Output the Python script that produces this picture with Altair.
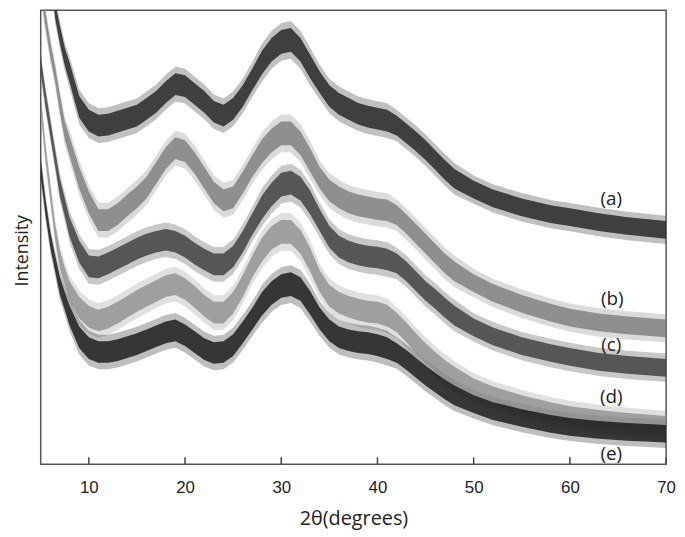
import altair as alt
import pandas as pd

# 2-theta sampling grid (degrees)
deg = [5, 5.5, 6, 6.5, 7, 7.5, 8,
       9, 10, 11, 12, 13, 14, 15, 16, 17, 18, 19, 20, 21, 22, 23, 24, 25, 26, 27, 28,
       29, 30, 31, 32, 33, 34, 35, 36, 37, 38, 39, 40, 41, 42, 43, 44, 45, 46, 47, 48,
       50, 52, 55, 58, 60, 63, 66, 70]

# smoothed intensity (arbitrary units)
int_a = [586, 556, 506, 461, 436, 414, 398,
         363, 349, 344, 345, 348, 351, 354, 361, 368, 378, 386, 384, 376, 368, 358, 354, 361, 374, 391, 408,
         421, 429, 431, 421, 404, 388, 374, 366, 361, 356, 353, 351, 349, 344, 336, 328, 319, 309, 299, 290,
         279, 270, 261, 254, 251, 246, 242, 238]
int_b = [486, 451, 421, 396, 366, 339, 323,
         291, 266, 248, 248, 254, 263, 271, 281, 296, 311, 321, 318, 306, 291, 276, 268, 271, 286, 303, 318,
         329, 336, 336, 326, 309, 291, 278, 271, 266, 263, 261, 259, 258, 253, 244, 234, 224, 214, 204, 196,
         184, 174, 163, 154, 149, 144, 141, 138]
int_c = [406, 371, 341, 311, 281, 261, 241,
         216, 201, 200, 204, 209, 214, 219, 223, 226, 228, 226, 221, 214, 208, 203, 203, 211, 226, 244, 261,
         274, 284, 286, 280, 266, 248, 231, 221, 216, 213, 211, 210, 208, 204, 196, 186, 176, 168, 159, 151,
         139, 130, 120, 113, 109, 104, 101, 98]
int_d = [366, 316, 276, 236, 208, 191, 176,
         159, 150, 146, 149, 154, 160, 166, 171, 176, 181, 183, 178, 170, 161, 154, 154, 164, 181, 201, 218,
         230, 236, 236, 226, 208, 186, 171, 164, 160, 157, 155, 154, 151, 144, 134, 123, 113, 104, 96, 89,
         78, 70, 61, 54, 50, 46, 43, 40]
int_e = [301, 261, 228, 204, 181, 166, 151,
         129, 118, 114, 114, 116, 119, 122, 126, 130, 134, 136, 131, 124, 117, 113, 114, 121, 134, 148, 163,
         174, 181, 183, 178, 164, 148, 136, 129, 126, 124, 123, 121, 118, 113, 106, 98, 90, 83, 76, 70,
         61, 54, 47, 41, 38, 35, 33, 31]

# half-width of the counting noise band
noise = [8, 8, 8, 8, 9, 9, 10,
         11, 11, 11, 11, 11, 11, 11, 11, 11, 11, 11, 11, 11, 11, 11, 11, 11, 11, 11, 12,
         12, 12, 12, 12, 12, 11, 11, 11, 11, 11, 11, 11, 11, 10, 10, 10, 10, 10, 10, 10,
         9, 9, 9, 9, 9, 9, 9, 9]

curves = ["a", "b", "c", "d", "e"]
curve_colors = ["#1e1e1e", "#7c7c7c", "#3a3a3a", "#8e8e8e", "#141414"]
series = [int_a, int_b, int_c, int_d, int_e]

label_text = ["(a)", "(b)", "(c)", "(d)", "(e)"]
label_deg = [64.3, 64.4, 64.3, 64.3, 64.3]
label_int = [269, 168, 121, 68, 10]

tick_vals = [10, 20, 30, 40, 50, 60, 70]

rows = []
for name, vals in zip(curves, series):
    for d, v, n in zip(deg, vals, noise):
        rows.append({"deg": d, "curve": name, "intensity": v, "noise": n})
df = pd.DataFrame(rows)

x_enc = alt.X("deg:Q",
              scale=alt.Scale(domain=[5, 70], nice=False, zero=False),
              axis=alt.Axis(values=tick_vals, ticks=False, domain=False, grid=False,
                            labelFontSize=17, labelFont="Liberation Sans", labelColor="#222",
                            labelPadding=15, labelFlush=False,
                            title="2θ(degrees)", titleFontSize=20, titleFont="Open Sans",
                            titleFontWeight="normal", titleColor="#222", titlePadding=14))
y_scale = alt.Scale(domain=[0, 461], nice=False, zero=False)
color_enc = alt.Color("curve:N", scale=alt.Scale(domain=curves, range=curve_colors), legend=None)

base = alt.Chart(df).transform_calculate(
    lo="datum.intensity - datum.noise",
    hi="datum.intensity + datum.noise",
    lo2="datum.intensity - 1.6 * datum.noise",
    hi2="datum.intensity + 1.6 * datum.noise",
)

outer = base.mark_area(clip=True, opacity=0.28).encode(
    x=x_enc,
    y=alt.Y("lo2:Q", scale=y_scale,
            axis=alt.Axis(title="Intensity", labels=False, ticks=False, domain=False, grid=False,
                          titleFontSize=18, titleFont="Open Sans", titleFontWeight="normal",
                          titleColor="#222", titleX=-9, titleY=242)),
    y2="hi2:Q",
    color=color_enc,
    detail="curve:N",
)
inner = base.mark_area(clip=True, opacity=0.8).encode(
    x=alt.X("deg:Q"),
    y=alt.Y("lo:Q"),
    y2="hi:Q",
    color=color_enc,
    detail="curve:N",
)

ticks = alt.Chart(pd.DataFrame({"t": tick_vals})).mark_rule(color="#444", strokeWidth=1.5).encode(
    x="t:Q", y=alt.value(458), y2=alt.value(451)
)

labels = alt.Chart(pd.DataFrame({"deg": label_deg, "intensity": label_int, "txt": label_text})).mark_text(
    font="Open Sans", fontSize=19, color="#222", align="center", baseline="middle"
).encode(x="deg:Q", y="intensity:Q", text="txt:N")

chart = alt.layer(outer, inner, ticks, labels).properties(
    width=631, height=458,
    autosize=alt.AutoSizeParams(type="none"),
    padding={"left": 33, "top": 0, "right": 11, "bottom": 70},
).configure_view(stroke="#555", strokeWidth=1.5)

chart.save("out.html", embed_options={"renderer": "svg", "actions": False})
